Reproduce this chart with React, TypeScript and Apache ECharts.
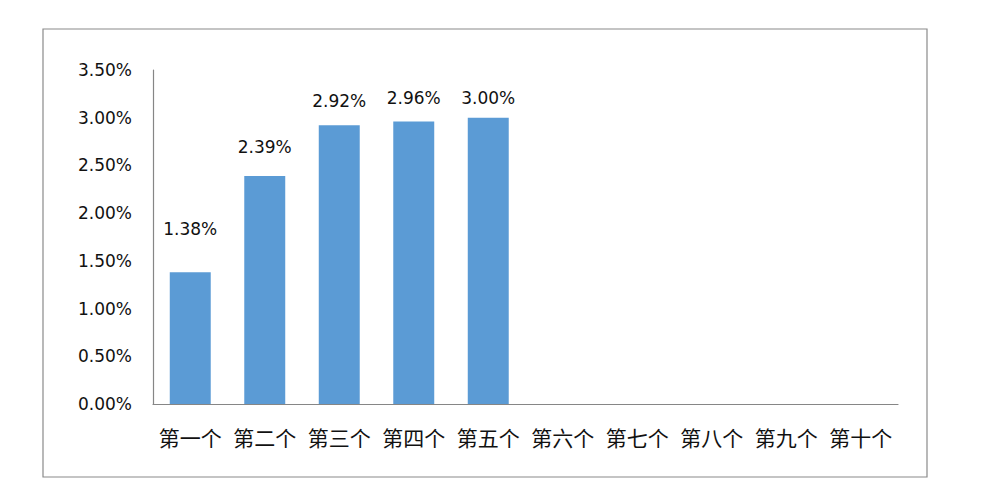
import React, { useEffect, useRef } from "react";
import * as echarts from "echarts";

const categories = ["第一个", "第二个", "第三个", "第四个", "第五个", "第六个", "第七个", "第八个", "第九个", "第十个"];
const values: (number | null)[] = [1.38, 2.39, 2.92, 2.96, 3.0, null, null, null, null, null];
const labelDistances = [35, 20, 16, 15, 11, 5, 5, 5, 5, 5];
const yTicks = { min: 0, max: 3.5, interval: 0.5 };

export default function App() {
  const ref = useRef<HTMLDivElement>(null);
  useEffect(() => {
    if (!ref.current) return;
    const chart = echarts.init(ref.current, null, { renderer: "svg" });
    chart.setOption({
      animation: false,
      backgroundColor: "#ffffff",
      graphic: [
        {
          type: "rect",
          shape: { x: 43, y: 29, width: 884, height: 448 },
          style: { fill: "none", stroke: "#8a8a8a", lineWidth: 1.2 },
          silent: true,
        },
      ],
      grid: { left: 153, right: 102, top: 70, bottom: 99, containLabel: false },
      xAxis: {
        type: "category",
        data: categories,
        axisLine: { show: true, lineStyle: { color: "#868686", width: 1.2 } },
        axisTick: { show: false },
        axisLabel: {
          color: "#111",
          fontSize: 21,
          fontFamily: "Noto Sans CJK SC",
          margin: 22,
          interval: 0,
        },
      },
      yAxis: {
        type: "value",
        min: yTicks.min,
        max: yTicks.max,
        interval: yTicks.interval,
        axisLine: { show: true, lineStyle: { color: "#868686", width: 1.2 } },
        axisTick: { show: false },
        splitLine: { show: false },
        axisLabel: {
          color: "#111",
          fontSize: 17,
          fontFamily: "DejaVu Sans",
          margin: 21,
          formatter: (v: number) => v.toFixed(2) + "%",
        },
      },
      series: [
        {
          type: "bar",
          barWidth: "55%",
          itemStyle: { color: "#5B9BD5" },
          data: values.map((v, i) => ({
            value: v,
            label: { distance: labelDistances[i] },
          })),
          label: {
            show: true,
            position: "top",
            color: "#111",
            fontSize: 17,
            fontFamily: "DejaVu Sans",
            formatter: (p: any) => (p.value == null ? "" : Number(p.value).toFixed(2) + "%"),
          },
        },
      ],
    });
    return () => chart.dispose();
  }, []);
  return (
    <div
      ref={ref}
      style={{ position: "fixed", left: 0, top: 0, width: 1000, height: 503 }}
    />
  );
}
